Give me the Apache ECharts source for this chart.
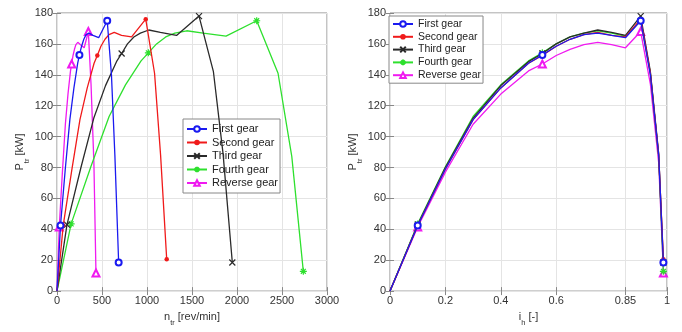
<!DOCTYPE html>
<html>
<head>
<meta charset="utf-8">
<script src="https://cdn.jsdelivr.net/npm/echarts@6/dist/echarts.min.js"></script>
<style>html,body{margin:0;padding:0;background:#fff;}#c{width:682px;height:332px;}</style>
</head>
<body>
<div id="c"></div>
<script>
// ---- data ----
const gearNames = ['First gear', 'Second gear', 'Third gear', 'Fourth gear', 'Reverse gear'];
// hydraulic ratio samples (right chart x)
const ihValues = [0, 0.1, 0.2, 0.3, 0.4, 0.5, 0.55, 0.6, 0.65, 0.7, 0.75, 0.8, 0.85, 0.905, 0.94, 0.97, 0.987];
// transmitted power per gear [kW]
const firstP   = [0, 42.5, 79, 111, 131.5, 147.5, 152.8, 158.5, 163, 166, 167, 165.5, 164, 175, 140, 88, 18.5];
const secondP  = [0, 42.5, 79, 111, 131.5, 147.5, 152.5, 158.5, 163, 166, 167.5, 165.5, 164.5, 176, 141, 88, 20.6];
const thirdP   = [0, 43, 80, 112, 133, 148.5, 153.8, 160, 164.5, 167, 169, 167.5, 165.5, 178, 142, 89, 18.5];
const fourthP  = [0, 43.5, 80.5, 113, 133.5, 149, 154.2, 160, 164.5, 167, 168.5, 167, 165, 175, 141, 87, 12.8];
const reverseP = [0, 41.5, 77, 108, 127.5, 142.5, 147, 152.5, 156.5, 159.5, 161, 159.5, 157.5, 168, 134, 83, 11.7];
// output speed per gear [rev/min] (left chart x)
const firstN   = [0, 39, 92, 143, 188, 230, 249, 273, 298, 323, 355, 400, 463, 558, 605, 643, 685];
const secondN  = [0, 69, 166, 255, 336, 412, 448, 488, 533, 578, 636, 717, 829, 986, 1084, 1151, 1219];
const thirdN   = [0, 111, 266, 409, 539, 661, 718, 783, 854, 926, 1020, 1149, 1328, 1578, 1738, 1845, 1948];
const fourthN  = [0, 157, 376, 579, 761, 934, 1015, 1106, 1208, 1309, 1441, 1624, 1878, 2219, 2456, 2609, 2737];
const reverseN = [0, 25, 60, 93, 122, 150, 163, 178, 194, 210, 231, 261, 302, 348, 378, 410, 433];
// indices carrying a marker
const markerIdx = [1, 6, 13, 16];
// tick labels
const rightXTicks = [0, 0.2, 0.4, 0.6, 0.85, 1];

const powers = [firstP, secondP, thirdP, fourthP, reverseP];
const speeds = [firstN, secondN, thirdN, fourthN, reverseN];

const FONT = 'Liberation Sans, Arial, sans-serif';
const colors = ['#1a1af0', '#f01a1a', '#2a2a2a', '#2ee02e', '#f01af0'];
const symbols = [
  'emptyCircle',
  'circle',
  'path://M0 0L10 10M10 0L0 10',
  'path://M5 0L5 10M0 5L10 5M1.5 1.5L8.5 8.5M8.5 1.5L1.5 8.5',
  'emptyTriangle'
];
const symSizes = [6, 4.5, 6, 7, 7];

function mkData(xs, ys) {
  return xs.map((x, k) => markerIdx.includes(k) ? [x, ys[k]] : {value: [x, ys[k]], symbol: 'none'});
}

const series = [];
gearNames.forEach((name, g) => {
  const isPath = symbols[g].startsWith('path');
  const base = {
    name, type: 'line', symbol: symbols[g], symbolSize: symSizes[g],
    showAllSymbol: true, animation: false, emphasis: {disabled: true},
    lineStyle: {color: colors[g], width: 1.3},
    itemStyle: isPath ? {color: colors[g], borderColor: colors[g], borderWidth: 1.2} : {color: colors[g], borderWidth: 1.2},
    z: 10 - g
  };
  series.push(Object.assign({}, base, {xAxisIndex: 0, yAxisIndex: 0, data: mkData(speeds[g], powers[g])}));
  series.push(Object.assign({}, base, {xAxisIndex: 2, yAxisIndex: 2, data: mkData(ihValues, powers[g])}));
});

const labelStyle = {color: '#333', fontSize: 11, fontFamily: FONT, formatter: v => String(v)};
const gridLine = {show: true, lineStyle: {color: '#e4e4e4', width: 1}};
const tickIn = {show: true, inside: true, length: 4, lineStyle: {color: '#888'}};
const nameRich = {
  a: {fontSize: 11, fontFamily: FONT, color: '#333', lineHeight: 14, verticalAlign: 'top'},
  b: {fontSize: 7.5, fontFamily: FONT, color: '#333', lineHeight: 8, padding: [8, 0, 0, 0], verticalAlign: 'top'}
};

function xAx(grid, min, max, interval, name, gap, custom) {
  const bottom = {
    gridIndex: grid, type: 'value', min, max, position: 'bottom',
    axisLine: {show: false}, axisTick: Object.assign({}, tickIn),
    axisLabel: Object.assign({margin: 4}, labelStyle),
    splitLine: gridLine,
    name, nameLocation: 'middle', nameGap: gap, nameTextStyle: {rich: nameRich}
  };
  const top = {
    gridIndex: grid, type: 'value', min, max, position: 'top',
    axisLine: {show: false}, axisTick: Object.assign({}, tickIn),
    axisLabel: {show: false}, splitLine: {show: false}
  };
  if (custom) {
    bottom.axisTick.customValues = custom;
    bottom.axisLabel.customValues = custom;
    top.axisTick.customValues = custom;
    bottom.splitLine = Object.assign({customValues: custom}, gridLine);
  } else {
    bottom.interval = interval; top.interval = interval;
  }
  return [bottom, top];
}
function yAx(grid, name, gap) {
  return [{
    gridIndex: grid, type: 'value', min: 0, max: 180, interval: 20, position: 'left',
    axisLine: {show: false}, axisTick: tickIn,
    axisLabel: Object.assign({margin: 4}, labelStyle),
    splitLine: gridLine,
    name, nameLocation: 'middle', nameGap: gap, nameRotate: 90, nameTextStyle: {rich: nameRich}
  }, {
    gridIndex: grid, type: 'value', min: 0, max: 180, interval: 20, position: 'right',
    axisLine: {show: false}, axisTick: tickIn, axisLabel: {show: false}, splitLine: {show: false}
  }];
}

const legendBase = {
  orient: 'vertical', data: gearNames, backgroundColor: '#fff', borderColor: '#888', borderWidth: 1,
  borderRadius: 0, itemWidth: 20, itemHeight: 7, itemTextGap: 3, selectedMode: false
};

const option = {
  backgroundColor: '#fff',
  animation: false,
  grid: [
    {left: 57, right: 355, top: 13, bottom: 37, show: true, borderColor: '#888', borderWidth: 1, backgroundColor: 'transparent'},
    {left: 390, right: 15, top: 13, bottom: 37, show: true, borderColor: '#888', borderWidth: 1, backgroundColor: 'transparent'}
  ],
  xAxis: [
    ...xAx(0, 0, 3000, 500, '{a|n}{b|tr}{a| [rev/min]}', 12),
    ...xAx(1, 0, 1, null, '{a|i}{b|h}{a| [-]}', 17, rightXTicks)
  ],
  yAxis: [
    ...yAx(0, '{a|P}{b|tr}{a| [kW]}', 28),
    ...yAx(1, '{a|P}{b|tr}{a| [kW]}', 28)
  ],
  legend: [
    Object.assign({left: 183, top: 119, padding: [4, 2, 4, 3], itemGap: 1.5,
      textStyle: {fontSize: 11, fontFamily: FONT, color: '#222', lineHeight: 12}}, legendBase),
    Object.assign({left: 389, top: 16, padding: [2, 2, 2, 3], itemGap: 0.8,
      textStyle: {fontSize: 10.5, fontFamily: FONT, color: '#222', lineHeight: 12}}, legendBase)
  ],
  series
};

const chart = echarts.init(document.getElementById('c'), null, {renderer: 'canvas'});
chart.setOption(option);
</script>
</body>
</html>
